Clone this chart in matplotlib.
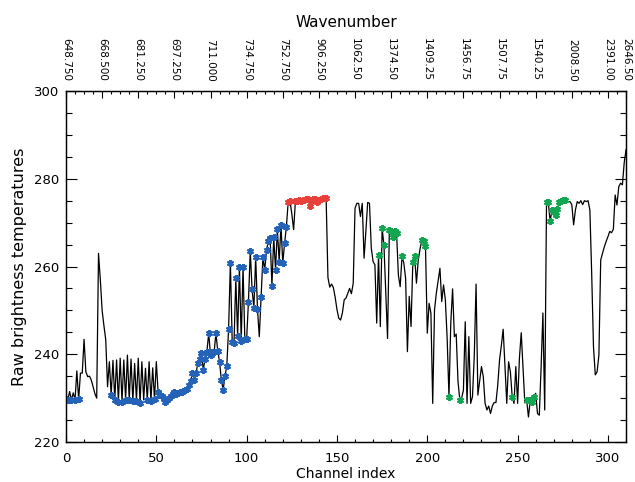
import matplotlib
matplotlib.use('Agg')
import matplotlib.pyplot as plt
from matplotlib.ticker import MultipleLocator

# ---------------- data ----------------
# raw brightness temperature per channel (channel index 0..310)
brightness = [
    229.8, 229.6, 231.5, 229.6, 231.2, 229.6, 236.2, 229.7, 235.7, 235.7,   # 0-9
    243.4, 236.0, 234.9, 235.0, 234.1, 232.6, 231.0, 230.0, 263.0, 257.0,   # 10-19
    250.0, 246.5, 243.3, 232.6, 238.3, 230.7, 238.6, 229.6, 238.7, 229.2,   # 20-29
    239.1, 229.2, 238.7, 229.6, 239.8, 229.5, 238.9, 229.3, 237.9, 229.4,   # 30-39
    239.1, 228.8, 238.3, 229.6, 236.8, 229.5, 238.3, 229.4, 236.9, 229.7,   # 40-49
    238.3, 231.3, 230.8, 230.4, 229.8, 229.2, 229.6, 230.0, 230.4, 231.0,   # 50-59
    231.3, 231.0, 231.2, 231.3, 231.3, 231.6, 231.9, 232.0, 233.0, 234.0,   # 60-69
    235.7, 234.2, 235.7, 238.0, 239.0, 240.2, 236.5, 238.9, 240.6, 244.8,   # 70-79
    239.8, 240.4, 240.5, 244.8, 240.8, 238.3, 234.1, 231.9, 235.0, 237.3,   # 80-89
    245.7, 260.9, 242.9, 242.5, 257.3, 244.2, 260.0, 243.1, 259.9, 243.4,   # 90-99
    243.5, 252.0, 263.5, 254.8, 250.5, 262.1, 250.3, 244.0, 253.1, 262.1,   # 100-109
    259.2, 263.8, 265.7, 266.5, 255.6, 266.7, 259.2, 268.5, 261.1, 269.5,   # 110-119
    260.8, 265.3, 269.0, 274.8, 274.9, 272.0, 268.4, 274.9, 275.0, 275.1,   # 120-129
    275.0, 275.1, 275.2, 275.3, 275.3, 273.8, 275.2, 275.4, 275.3, 274.6,   # 130-139
    275.1, 275.3, 275.6, 275.7, 275.6, 257.5, 255.3, 256.0, 255.2, 253.0,   # 140-149
    250.2, 248.2, 247.8, 249.4, 252.4, 252.8, 253.9, 255.0, 253.8, 256.2,   # 150-159
    273.3, 274.4, 274.4, 271.4, 274.4, 261.9, 268.0, 274.6, 274.4, 264.2,   # 160-169
    261.1, 260.4, 247.1, 262.7, 246.3, 268.7, 264.9, 254.0, 243.6, 268.4,   # 170-179
    268.0, 266.8, 268.0, 267.6, 258.0, 255.4, 262.3, 260.8, 257.3, 240.6,   # 180-189
    253.2, 246.3, 261.1, 262.3, 256.2, 261.5, 264.0, 266.1, 265.7, 264.7,   # 190-199
    244.8, 251.6, 249.4, 228.8, 250.1, 253.9, 256.8, 259.6, 252.0, 255.8,   # 200-209
    252.4, 243.6, 230.3, 247.1, 254.9, 244.0, 244.6, 233.8, 229.6, 230.0,   # 210-219
    231.8, 247.4, 228.8, 244.0, 228.8, 230.3, 239.5, 256.0, 230.7, 234.0,   # 220-229
    237.2, 234.9, 228.8, 227.3, 228.2, 226.5, 228.2, 229.0, 229.0, 233.0,   # 230-239
    238.7, 242.0, 245.7, 237.2, 228.8, 238.3, 236.0, 230.3, 228.8, 237.2,   # 240-249
    228.8, 239.1, 244.9, 237.0, 228.9, 229.5, 225.7, 229.5, 229.2, 230.2,   # 250-259
    231.1, 226.5, 226.1, 237.0, 249.4, 227.3, 274.8, 274.6, 270.3, 272.8,   # 260-269
    272.5, 271.8, 273.1, 274.6, 275.0, 275.2, 275.2, 274.8, 274.8, 274.8,   # 270-279
    274.1, 269.5, 272.9, 274.8, 274.4, 275.0, 274.1, 275.0, 274.8, 275.0,   # 280-289
    272.9, 258.5, 241.7, 235.3, 236.0, 239.8, 261.5, 263.0, 264.5, 265.7,   # 290-299
    266.8, 268.0, 267.7, 268.5, 276.3, 274.0, 278.2, 279.0, 278.6, 283.6,   # 300-309
    286.6,                                                                  # 310
]

# channels highlighted with coloured asterisks
blue_channels = [0, 1, 3, 5, 7, 25, 27, 29, 31, 33, 35, 37, 39, 41, 45, 47, 49,
                 51, 52, 53, 54, 55, 56, 57, 58, 59, 60, 61, 62, 63, 64, 65, 66,
                 67, 68, 69, 70, 71, 72, 73, 74, 75, 76, 77, 78, 79, 80, 81, 82,
                 83, 84, 85, 86, 87, 88, 89, 90, 91, 92, 93, 94, 95, 96, 97, 98,
                 99, 100, 101, 102, 103, 104, 105, 106, 108, 109, 110, 111, 112,
                 113, 114, 115, 116, 117, 118, 119, 120, 121, 122]
red_channels = [123, 124, 127, 128, 129, 130, 131, 132, 133, 134, 135, 136, 137,
                138, 139, 140, 141, 142, 143, 144]
green_channels = [173, 175, 176, 179, 180, 181, 182, 183, 186, 192, 193, 197,
                  198, 199, 212, 218, 247, 255, 257, 258, 259, 266, 267, 268,
                  269, 270, 271, 272, 273, 274, 275, 276]

# top axis: wavenumber labels at channel positions
wn_tick_channels = [0, 20, 40, 60, 80, 100, 120, 140, 160, 180, 200, 220, 240,
                    260, 280, 300, 310]
wn_labels = ['648.750', '668.500', '681.250', '697.250', '711.000', '734.750',
             '752.750', '906.250', '1062.50', '1374.50', '1409.25', '1456.75',
             '1507.75', '1540.25', '2008.50', '2391.00', '2646.50']

# ---------------- plot ----------------
plt.rcParams['font.family'] = ['DejaVu Sans']

W, H = 635, 482
fig = plt.figure(figsize=(W / 100, H / 100), dpi=100)
ax = fig.add_axes([66 / W, 1 - 442 / H, 560 / W, 351 / H])

channels = list(range(len(brightness)))
ax.plot(channels, brightness, color='black', lw=0.9, zorder=2)

asterisk = (6, 2, 0)
for sel, col in ((blue_channels, '#2563b8'),
                 (red_channels, '#e8413c'),
                 (green_channels, '#12a552')):
    ax.plot(sel, [brightness[i] for i in sel], ls='none', marker=asterisk,
            ms=5, mec=col, mfc=col, mew=1.5, zorder=3)

ax.set_xlim(0, 310)
ax.set_ylim(220, 300)
ax.xaxis.set_major_locator(MultipleLocator(50))
ax.xaxis.set_minor_locator(MultipleLocator(10))
ax.yaxis.set_major_locator(MultipleLocator(20))
ax.yaxis.set_minor_locator(MultipleLocator(5))
ax.tick_params(axis='both', which='both', direction='in', right=True, top=False,
               labelsize=9.5, width=0.8)
ax.tick_params(axis='x', which='major', length=5, pad=7)
ax.tick_params(axis='x', which='minor', length=2.5)
ax.tick_params(axis='y', which='major', length=8, pad=5)
ax.tick_params(axis='y', which='minor', length=4)
for s in ax.spines.values():
    s.set_linewidth(0.9)

ax.set_xlabel('Channel index', fontsize=10, labelpad=2)
ax.set_ylabel('Raw brightness temperatures', fontsize=11.5, labelpad=5)

ax2 = ax.twiny()
ax2.set_xlim(0, 310)
ax2.set_xticks(wn_tick_channels)
ax2.set_xticklabels(wn_labels, rotation=270, fontsize=7.5)
ax2.xaxis.set_minor_locator(MultipleLocator(5))
ax2.tick_params(axis='x', which='major', direction='in', length=5, width=0.8, pad=7)
ax2.tick_params(axis='x', which='minor', direction='in', length=2.5, width=0.8)
ax2.set_xlabel('Wavenumber', fontsize=11, labelpad=8)
for s in ax2.spines.values():
    s.set_linewidth(0.9)

fig.savefig('out.png', dpi=100)
